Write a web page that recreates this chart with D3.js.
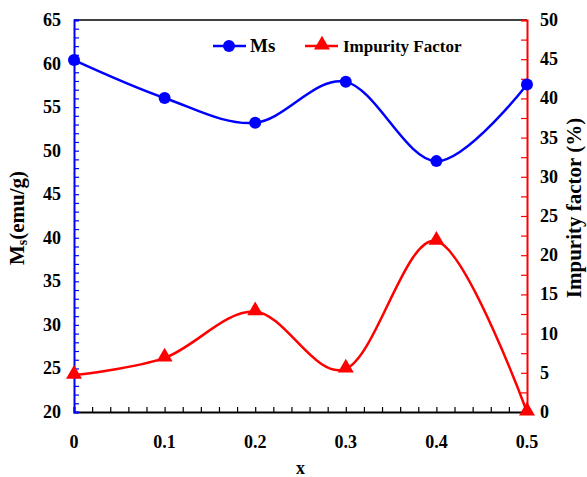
<!doctype html>
<html>
<head>
<meta charset="utf-8">
<script src="https://d3js.org/d3.v7.min.js"></script>
<style>
  body { margin: 0; background: #fff; }
</style>
</head>
<body>
<div id="chart"></div>
<script>
// values
const xs = [0, 0.1, 0.2, 0.3, 0.4, 0.5];
const ms = [60.4, 56.05, 53.2, 57.9, 48.8, 57.6];
const impurity = [4.7, 6.9, 12.8, 5.5, 21.8, 0];
const xTicks = [0, 0.1, 0.2, 0.3, 0.4, 0.5];
const leftTicks = [20, 25, 30, 35, 40, 45, 50, 55, 60, 65];
const rightTicks = [0, 5, 10, 15, 20, 25, 30, 35, 40, 45, 50];

const W = 587, H = 477;
const plotL = 74, plotR = 527, plotT = 20, plotB = 412;

const svg = d3.select('#chart').append('svg')
  .attr('width', W).attr('height', H);

const x = d3.scaleLinear().domain([0, 0.5]).range([plotL, plotR]);
const yL = d3.scaleLinear().domain([20, 65]).range([plotB, plotT]);
const yR = d3.scaleLinear().domain([0, 50]).range([plotB, plotT]);

// top frame line
svg.append('line')
  .attr('x1', plotL).attr('x2', plotR).attr('y1', plotT).attr('y2', plotT)
  .attr('stroke', '#000').attr('stroke-width', 1.5);

// bottom axis: minor ticks every 0.02, labels at 0.1
const bx = svg.append('g').attr('transform', `translate(0,${plotB})`);
bx.call(d3.axisBottom(x).tickValues(d3.range(0, 0.5001, 0.02)).tickSize(-5).tickFormat(''));
bx.select('.domain').attr('stroke', '#000').attr('stroke-width', 2);
bx.selectAll('.tick line').attr('stroke', '#000').attr('stroke-width', 1.2);

svg.append('g').selectAll('text').data(xTicks).join('text')
  .attr('x', d => x(d)).attr('y', 448)
  .attr('text-anchor', 'middle').attr('font-size', 18)
  .text(d => d === 0 ? '0' : d3.format('.1f')(d));

svg.append('text').attr('x', x(0.25)).attr('y', 474)
  .attr('text-anchor', 'middle').attr('font-size', 18).text('x');

// left axis (blue)
const ly = svg.append('g').attr('transform', `translate(${plotL},0)`);
ly.call(d3.axisLeft(yL).tickValues(d3.range(20, 65.01, 1)).tickSize(-5).tickFormat(''));
ly.select('.domain').attr('stroke', '#0000ff').attr('stroke-width', 2);
ly.selectAll('.tick line').attr('stroke', '#0000ff').attr('stroke-width', 1.2);

svg.append('g').selectAll('text').data(leftTicks).join('text')
  .attr('x', 61).attr('y', d => yL(d) + 6)
  .attr('text-anchor', 'end').attr('font-size', 18)
  .text(d => d);

// right axis (red)
const ry = svg.append('g').attr('transform', `translate(${plotR},0)`);
ry.call(d3.axisRight(yR).tickValues(d3.range(0, 50.01, 2.5)).tickSize(-6).tickFormat(''));
ry.select('.domain').attr('stroke', '#ff0000').attr('stroke-width', 2);
ry.selectAll('.tick line').attr('stroke', '#ff0000').attr('stroke-width', 1.2);

svg.append('g').selectAll('text').data(rightTicks).join('text')
  .attr('x', 540).attr('y', d => yR(d) + 6)
  .attr('text-anchor', 'start').attr('font-size', 18)
  .text(d => d);

// axis titles
const lt = svg.append('text')
  .attr('transform', 'translate(24,218) rotate(-90)')
  .attr('text-anchor', 'middle').attr('font-size', 21);
lt.append('tspan').text('M');
lt.append('tspan').attr('font-size', 14).attr('dy', 3).text('s');
lt.append('tspan').attr('dy', -3).text('(emu/g)');

svg.append('text')
  .attr('transform', 'translate(581,208) rotate(-90)')
  .attr('text-anchor', 'middle').attr('font-size', 21)
  .text('Impurity factor (%)');

// lines
const curve = d3.curveCatmullRom.alpha(0);
const msLine = d3.line().x((d, i) => x(xs[i])).y(d => yL(d)).curve(curve);
const impLine = d3.line().x((d, i) => x(xs[i])).y(d => yR(d)).curve(curve);

svg.append('path').datum(ms).attr('d', msLine)
  .attr('fill', 'none').attr('stroke', '#0000ff').attr('stroke-width', 2.5);
svg.append('path').datum(impurity).attr('d', impLine)
  .attr('fill', 'none').attr('stroke', '#ff0000').attr('stroke-width', 2.5);

const tri = d3.symbol().type(d3.symbolTriangle).size(110);

svg.append('g').selectAll('circle').data(ms).join('circle')
  .attr('cx', (d, i) => x(xs[i])).attr('cy', d => yL(d))
  .attr('r', 6).attr('fill', '#0000ff');

svg.append('g').selectAll('path').data(impurity).join('path')
  .attr('d', tri)
  .attr('transform', (d, i) => `translate(${x(xs[i])},${yR(d) - 1})`)
  .attr('fill', '#ff0000');

// legend
const lg = svg.append('g');
lg.append('line').attr('x1', 213).attr('x2', 246).attr('y1', 46).attr('y2', 46)
  .attr('stroke', '#0000ff').attr('stroke-width', 2.5);
lg.append('circle').attr('cx', 229).attr('cy', 46).attr('r', 6).attr('fill', '#0000ff');
lg.append('text').attr('x', 250).attr('y', 52).attr('font-size', 19).text('Ms');

lg.append('line').attr('x1', 305).attr('x2', 338).attr('y1', 46).attr('y2', 46)
  .attr('stroke', '#ff0000').attr('stroke-width', 2.5);
lg.append('path').attr('d', tri).attr('transform', 'translate(322,45)').attr('fill', '#ff0000');
lg.append('text').attr('x', 343).attr('y', 52).attr('font-size', 17).text('Impurity Factor');

svg.selectAll('text')
  .style('font-family', 'Liberation Serif')
  .style('font-weight', 'bold');
</script>
</body>
</html>
